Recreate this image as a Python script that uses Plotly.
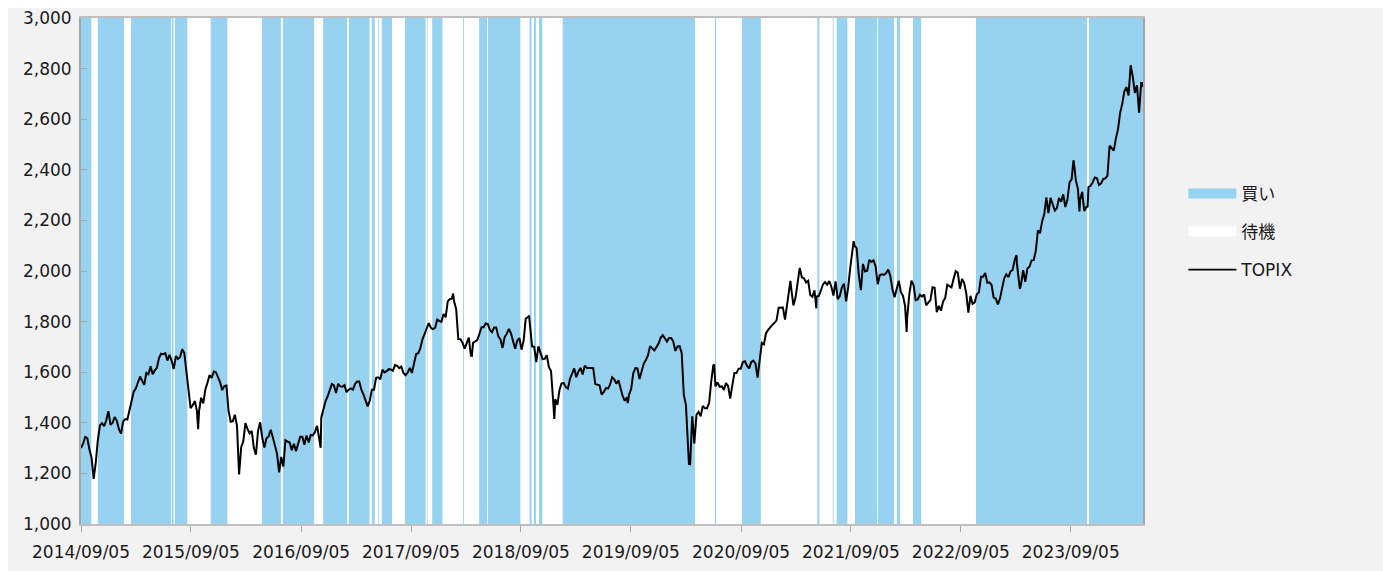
import pandas as pd
import plotly.graph_objects as go

# ---------------- data ----------------
start_date = "2014-09-05"
end_date = "2024-05-02"

# "待機" (wait) periods; everything else between start and end is "買い" (buy)
wait_starts = ["2014-10-10", "2015-01-26", "2015-07-02", "2015-07-10", "2015-08-25",
               "2016-01-05", "2016-06-30", "2016-10-19", "2017-02-06", "2017-04-21",
               "2017-05-08", "2017-05-22", "2017-07-04", "2017-10-24", "2017-11-01",
               "2017-12-19", "2018-02-28", "2018-05-16", "2018-09-04", "2018-10-11",
               "2018-10-25", "2018-11-16", "2020-04-05", "2020-06-15", "2020-11-10",
               "2021-05-24", "2021-07-10", "2021-08-25", "2021-12-02", "2022-01-27",
               "2022-02-16", "2022-04-27", "2023-10-29"]
wait_ends = ["2014-10-30", "2015-02-18", "2015-07-04", "2015-07-13", "2015-11-09",
             "2016-04-28", "2016-07-06", "2016-11-17", "2017-02-10", "2017-04-27",
             "2017-05-19", "2017-05-30", "2017-08-15", "2017-10-29", "2017-11-14",
             "2018-02-25", "2018-04-19", "2018-05-18", "2018-10-03", "2018-10-18",
             "2018-11-04", "2019-01-21", "2020-06-10", "2020-09-08", "2021-05-16",
             "2021-07-06", "2021-07-19", "2021-09-18", "2021-12-04", "2022-02-04",
             "2022-03-30", "2022-10-25", "2023-11-04"]

# TOPIX weekly (Friday) closes by year
topix_2014 = [1300, 1318, 1344, 1339,
              1294, 1262, 1180, 1243, 1333,
              1390, 1398, 1387, 1410,
              1446, 1392, 1400, 1423]
topix_2015 = [1408, 1375, 1359, 1405, 1415,
              1413, 1452, 1490, 1523,
              1535, 1556, 1583, 1566,
              1550, 1597, 1592, 1624,
              1592, 1607, 1617, 1656, 1673,
              1671, 1675, 1646, 1669,
              1645, 1613, 1663, 1653, 1659,
              1691, 1676, 1597, 1537,
              1458, 1469, 1486, 1447,
              1445, 1499, 1477, 1532, 1558,
              1589, 1577, 1603, 1600,
              1582, 1560, 1529, 1545]
topix_2016 = [1547, 1447, 1404, 1406, 1432,
              1389, 1196, 1304, 1327,
              1399, 1376, 1358, 1368,
              1301, 1274, 1369, 1402, 1340,
              1302, 1339, 1346, 1372,
              1343, 1312, 1278, 1204,
              1265, 1227, 1331, 1326, 1322,
              1292, 1317, 1288, 1313,
              1345, 1345, 1313, 1350, 1322,
              1352, 1350, 1363, 1388,
              1338, 1420, 1455, 1485,
              1504, 1533, 1553, 1548, 1518]
topix_2017 = [1554, 1544, 1543, 1549,
              1521, 1531, 1536, 1531,
              1553, 1563, 1563, 1531, 1512,
              1484, 1465, 1487, 1531,
              1531, 1578, 1580, 1572,
              1610, 1599, 1604, 1612, 1611,
              1606, 1628, 1625, 1616,
              1622, 1597, 1588, 1599,
              1617, 1597, 1638, 1672, 1675,
              1695, 1730, 1749, 1774,
              1794, 1775, 1770, 1775,
              1808, 1803, 1799, 1830, 1817]
topix_2018 = [1880, 1889, 1891, 1880,
              1849, 1731, 1730, 1717,
              1693, 1715, 1737, 1665, 1716,
              1720, 1727, 1751, 1778,
              1778, 1793, 1790, 1767,
              1758, 1777, 1777, 1742, 1730,
              1696, 1739, 1752, 1771,
              1754, 1722, 1693, 1725, 1735,
              1689, 1725, 1812, 1817,
              1785, 1702, 1701, 1640,
              1702, 1680, 1652, 1653, 1667,
              1620, 1605, 1488, 1494]
topix_2019 = [1471, 1529, 1556, 1557,
              1541, 1535, 1574, 1594,
              1615, 1580, 1603, 1617, 1591,
              1626, 1617, 1617, 1617,
              1617, 1553, 1550, 1548, 1512,
              1521, 1537, 1535, 1551,
              1580, 1572, 1555, 1568,
              1536, 1505, 1487, 1501, 1511,
              1533, 1595, 1616, 1615,
              1573, 1602, 1634, 1648,
              1666, 1703, 1696, 1686, 1699,
              1713, 1736, 1746, 1734]
topix_2020 = [1721, 1735, 1735, 1721, 1684,
              1702, 1703, 1675, 1511,
              1471, 1261, 1236, 1426,
              1318, 1431, 1443, 1426,
              1467, 1458, 1458, 1478, 1563,
              1627, 1544, 1560, 1542,
              1545, 1530, 1557, 1546, 1496,
              1546, 1597, 1597, 1614,
              1614, 1640, 1643, 1625,
              1615, 1641, 1646, 1634, 1579,
              1661, 1716, 1710, 1754,
              1767, 1778, 1787, 1795]
topix_2021 = [1805, 1855, 1856, 1856, 1808,
              1873, 1929, 1928, 1864,
              1895, 1952, 2012, 1975,
              1971, 1955, 1961, 1905, 1898,
              1924, 1899, 1901, 1922,
              1947, 1956, 1946, 1960,
              1938, 1903, 1959, 1889, 1901,
              1935, 1950, 1899, 1937,
              2015, 2089, 2100, 2090,
              1986, 1924, 2028, 1998, 2001,
              2044, 2036, 2042, 2019,
              1948, 1984, 1987, 1985, 1992]
topix_2022 = [2006, 1979, 1927, 1896,
              1929, 1961, 1916, 1902,
              1859, 1818, 1909, 1962,
              1944, 1885, 1888, 1906, 1899,
              1907, 1864, 1875, 1885,
              1936, 1934, 1837, 1862,
              1843, 1879, 1893, 1946, 1940,
              1935, 1969, 1999, 1993,
              1930, 1969, 1953, 1912, 1835,
              1902, 1870, 1876, 1908,
              1915, 1977, 1977, 1992,
              1953, 1955, 1945, 1895, 1891]
topix_2023 = [1868, 1891, 1926, 1971,
              1987, 1976, 1998, 2004,
              2044, 2032, 1958, 1947, 2003,
              1957, 2010, 2017, 2042,
              2043, 2080, 2161, 2149,
              2196, 2224, 2291, 2229, 2289,
              2262, 2239, 2248, 2289,
              2274, 2303, 2253, 2282,
              2350, 2362, 2434, 2359, 2323,
              2281, 2313, 2237, 2253,
              2332, 2337, 2351, 2370,
              2367, 2340, 2346, 2364, 2366]
topix_2024 = [2377, 2495, 2485, 2476,
              2524, 2560, 2625, 2660,
              2709, 2727, 2694, 2813, 2769,
              2704, 2734, 2626, 2743]

# extra daily closes (spikes / lows visible in the chart)
extra_dates = ["2014-10-17", "2015-01-16", "2015-09-29", "2016-02-12", "2016-11-09",
               "2017-04-14", "2018-01-23", "2018-03-26", "2018-10-02", "2018-12-25",
               "2019-08-26", "2020-03-16", "2020-03-24", "2020-06-08", "2021-02-16",
               "2021-05-13", "2021-08-20", "2021-09-14", "2021-10-06", "2022-03-09",
               "2023-03-09", "2023-03-20", "2023-09-14", "2023-10-04", "2023-10-31",
               "2024-04-30", "2024-05-01", "2024-05-02"]
extra_values = [1178, 1357, 1375, 1196, 1301,
                1465, 1911, 1664, 1824, 1415,
                1478, 1237, 1333, 1630, 1961,
                1852, 1880, 2118, 1935, 1759,
                2063, 1929, 2437, 2235, 2254,
                2743, 2730, 2728]

# ---------------- build series ----------------
year_lists = {2014: topix_2014, 2015: topix_2015, 2016: topix_2016, 2017: topix_2017,
              2018: topix_2018, 2019: topix_2019, 2020: topix_2020, 2021: topix_2021,
              2022: topix_2022, 2023: topix_2023, 2024: topix_2024}
parts = []
for yr, vals in year_lists.items():
    s = start_date if yr == 2014 else f"{yr}-01-01"
    e = "2024-04-26" if yr == 2024 else f"{yr}-12-31"
    d = pd.date_range(s, e, freq="W-FRI")
    n = min(len(d), len(vals))
    parts.append(pd.Series(vals[:n], index=d[:n]))
topix = pd.concat(parts)
topix = pd.concat([topix, pd.Series(extra_values, index=pd.to_datetime(extra_dates))])
topix = topix[~topix.index.duplicated(keep="last")].sort_index()

# step functions for the signal areas
bx = [pd.Timestamp(start_date)]
buy_y = [3000]
wait_y = [0]
for s, e in zip(wait_starts, wait_ends):
    bx += [pd.Timestamp(s), pd.Timestamp(e)]
    buy_y += [0, 3000]
    wait_y += [3000, 0]
bx.append(pd.Timestamp(end_date))
buy_y.append(buy_y[-1])
wait_y.append(wait_y[-1])

BLUE = "#97D3F0"
FONT = "DejaVu Sans, Noto Sans CJK JP, sans-serif"
TXT = "#1A1A1A"

fig = go.Figure()
fig.add_trace(go.Scatter(x=bx, y=buy_y, mode="lines", line=dict(width=0, shape="hv"),
                         fill="tozeroy", fillcolor=BLUE, name="買い",
                         showlegend=False, hoverinfo="skip"))
fig.add_trace(go.Scatter(x=bx, y=wait_y, mode="lines", line=dict(width=0, shape="hv"),
                         fill="tozeroy", fillcolor="#FFFFFF", name="待機",
                         showlegend=False, hoverinfo="skip"))
fig.add_trace(go.Scatter(x=topix.index, y=topix.values, mode="lines",
                         line=dict(color="#000000", width=2), name="TOPIX",
                         showlegend=False))
# legend entries (same names/colours as the series above)
fig.add_trace(go.Scatter(x=[None], y=[None], mode="lines", name="買い",
                         line=dict(color=BLUE, width=10), legendgroup="a"))
fig.add_trace(go.Scatter(x=[None], y=[None], mode="lines", name="待機",
                         line=dict(color="#FFFFFF", width=10), legendgroup="b"))
fig.add_trace(go.Scatter(x=[None], y=[None], mode="lines", name="TOPIX",
                         line=dict(color="#000000", width=1.8), legendgroup="c"))

tickvals = [pd.Timestamp(f"{y}-09-05") for y in range(2014, 2024)]
ticktext = [t.strftime("%Y/%m/%d") for t in tickvals]

fig.update_layout(
    width=1383, height=563, autosize=False,
    margin=dict(l=73, r=248, t=10, b=47, pad=0),
    paper_bgcolor="#F2F2F2", plot_bgcolor="#FFFFFF",
    font=dict(family=FONT, size=17, color=TXT),
    showlegend=True,
    legend=dict(x=1.038, xanchor="left", y=0.688, yanchor="top",
                traceorder="grouped", tracegroupgap=13, itemwidth=48,
                bgcolor="rgba(0,0,0,0)", font=dict(family=FONT, size=17, color=TXT)),
    xaxis=dict(type="date", range=[start_date, end_date], tickvals=tickvals,
               ticktext=ticktext, ticks="outside", ticklen=6, tickcolor="#A6A6A6",
               showline=True, linecolor="#BFBFBF", linewidth=2, mirror=True,
               showgrid=False, zeroline=False, ticklabelstandoff=6, automargin=False,
               ticklabeloverflow="allow"),
    yaxis=dict(range=[1000, 3000], tickvals=list(range(1000, 3001, 200)),
               tickformat=",", ticks="inside", ticklen=6, tickcolor="#A6A6A6",
               showline=True, linecolor="#A6A6A6", linewidth=2, mirror=True,
               showgrid=False, zeroline=False, ticklabelstandoff=4, automargin=False,
               ticklabeloverflow="allow"),
)

fig.write_html("out.html")
